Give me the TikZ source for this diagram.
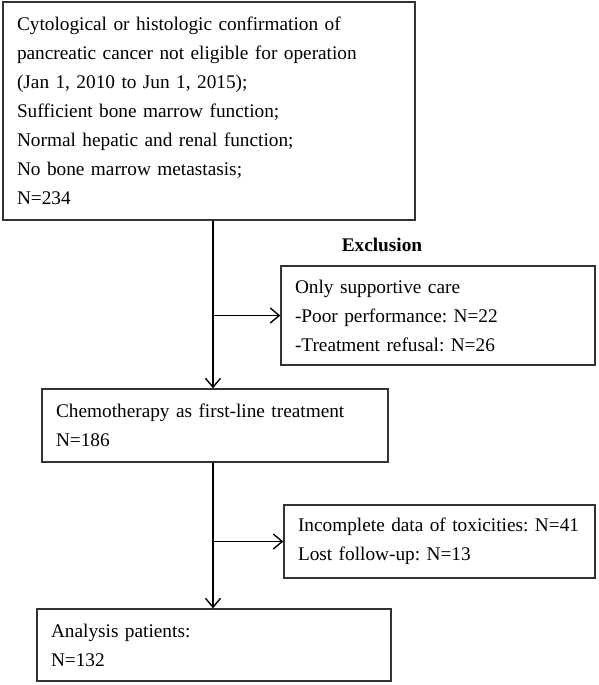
\documentclass[tikz,border=0pt]{standalone}
\usepackage{fontspec}
\setmainfont{Liberation Serif}
\usetikzlibrary{arrows.meta, positioning}

\begin{document}
\frenchspacing
\begin{tikzpicture}[
        x=1pt, y=-1pt,
        box/.style={draw=black!80, line width=1.3pt, align=left, inner xsep=14pt, inner ysep=0pt, font=\fontsize{19.3}{29}\selectfont},
        arrow/.style={-{Straight Barb[length=9pt, width=15pt, line width=1.4pt]}, line width=1.4pt}
    ]
    \useasboundingbox (0,0) rectangle (598,685);

    \node (crit) [box, minimum width=412pt, minimum height=218pt, text width=384pt] at (209,111) {Cytological or histologic confirmation of\\pancreatic cancer not eligible for operation\\(Jan 1, 2010 to Jun 1, 2015);\\Sufficient bone marrow function;\\Normal hepatic and renal function;\\No bone marrow metastasis;\\N=234};
    \node (excl) [box, minimum width=314pt, minimum height=99pt, text width=286pt] at (438,315.5) {Only supportive care\\-Poor performance: N=22\\-Treatment refusal: N=26};
    \node (exlabel) [font=\fontsize{19.3}{29}\selectfont\bfseries] at (382,245) {Exclusion};
    \node (chemo) [box, minimum width=346pt, minimum height=73pt, text width=318pt] at (215,425.5) {Chemotherapy as first-line treatment\\N=186};
    \node (lost) [box, minimum width=311pt, minimum height=73pt, text width=283pt] at (439.5,541.5) {Incomplete data of toxicities: N=41\\Lost follow-up: N=13};
    \node (final) [box, minimum width=354pt, minimum height=72pt, text width=326pt] at (214,645) {Analysis patients:\\N=132};

    \draw [arrow] (crit.south -| 213,0) -- (chemo.north -| 213,0);
    \draw [arrow] (excl.west -| 213,0) -- (excl.west);
    \draw [arrow] (chemo.south -| 213,0) -- (final.north -| 213,0);
    \draw [arrow] (lost.west -| 213,0) -- (lost.west);

\end{tikzpicture}
\end{document}
